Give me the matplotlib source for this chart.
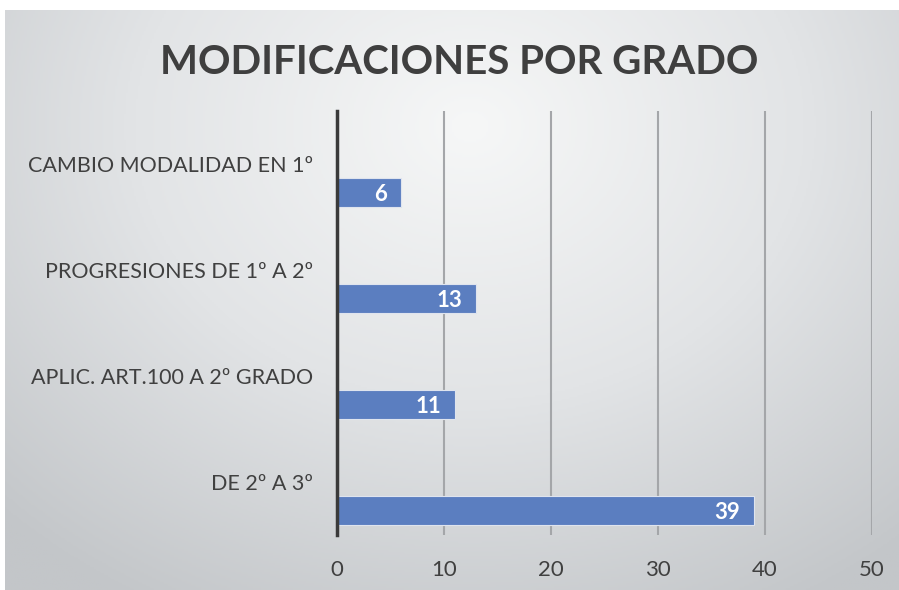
import matplotlib.pyplot as plt
import numpy as np
from matplotlib.colors import LinearSegmentedColormap

categorias=['CAMBIO MODALIDAD EN 1º','PROGRESIONES DE 1º A 2º','APLIC. ART.100 A 2º GRADO','DE 2º A 3º']
valores=[6,13,11,39]
xticks=[0,10,20,30,40,50]
titulo='MODIFICACIONES POR GRADO'

plt.rcParams['font.family']=['Lato','DejaVu Sans']
texto='#404040'

fig=plt.figure(figsize=(8.99,5.9),dpi=100)
fig.patch.set_facecolor('white')

#fondo con degradado radial
bg=fig.add_axes([5/899,0,1-5/899,1-10/590])
bg.set_axis_off()
yy,xx=np.mgrid[0:1:300j,0:1:450j]
d=np.sqrt(((xx-0.52)/0.75)**2+((yy-0.2)/0.95)**2)
cmap=LinearSegmentedColormap.from_list('fondo',['#f6f7f7','#e2e4e6','#c3c6c9'])
bg.imshow(np.clip(d,0,1),cmap=cmap,vmin=0,vmax=1,aspect='auto',extent=[0,1,1,0])
bg.set_xlim(0,1)
bg.set_ylim(1,0)

ax=fig.add_axes([337/899,1-535/590,(872-337)/899,(535-111)/590])
ax.patch.set_alpha(0)

pos=np.arange(len(categorias))
ax.barh(pos+0.27,valores,height=0.27,color='#5b7ec0',edgecolor='#dfe4ee',lw=0.8,zorder=3)
for p,v in zip(pos,valores):
    ax.text(v-1.3,p+0.285,str(v),ha='right',va='center',color='white',fontsize=16,fontweight='bold',zorder=4)

ax.set_xlim(0,50)
ax.set_ylim(3.5,-0.5)
ax.set_xticks(xticks)
ax.set_yticks(pos)
ax.set_yticklabels(categorias,fontsize=15.5,color=texto)
ax.tick_params(axis='y',length=0,pad=17)
ax.tick_params(axis='x',length=0,pad=18,labelsize=16,labelcolor=texto)
ax.grid(axis='x',color='#a4a6a9',lw=1.5,zorder=1)
for s in ['top','right','bottom']:
    ax.spines[s].set_visible(False)
ax.spines['left'].set_color('#3a3a3a')
ax.spines['left'].set_linewidth(2.5)
ax.spines['left'].set_zorder(5)

fig.text(459/899,1-62/590,titulo,ha='center',va='center',fontsize=29,fontweight='bold',color='#3f3f3f')

fig.savefig('out.png',dpi=100)
